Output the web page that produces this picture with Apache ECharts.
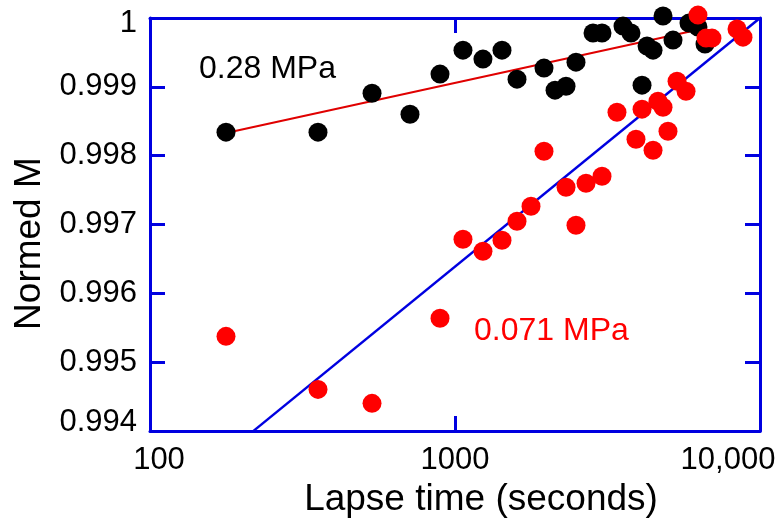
<!DOCTYPE html>
<html>
<head>
<meta charset="utf-8">
<script src="https://cdn.jsdelivr.net/npm/echarts@6/dist/echarts.min.js"></script>
<style>html,body{margin:0;padding:0;background:#fff;}#c{width:783px;height:523px;}</style>
</head>
<body>
<div id="c"></div>
<script>
// ---- data ----
const blackTime = [177.5, 355.5, 534.5, 712, 893, 1062, 1235, 1426, 1597, 1958, 2128, 2312, 2493, 2835, 3034, 3555, 3776, 4104, 4262, 4460, 4809, 5186, 5850, 6261, 6602];
const blackM = [0.998342, 0.998342, 0.998908, 0.998603, 0.999185, 0.999533, 0.999403, 0.999533, 0.999112, 0.999272, 0.998952, 0.999010, 0.999359, 0.999781, 0.999781, 0.999882, 0.999781, 0.999025, 0.999592, 0.999533, 1.000028, 0.999679, 0.999926, 0.999868, 0.999621];
const redTime = [177.5, 355.5, 534.5, 893, 1062, 1235, 1426, 1597, 1775, 1958, 2312, 2493, 2689, 3034, 3397, 3921, 4104, 4460, 4629, 4809, 4993, 5345, 5721, 6261, 6653, 6959, 8407, 8796];
const redM = [0.995376, 0.994606, 0.994403, 0.995638, 0.996786, 0.996612, 0.996772, 0.997048, 0.997266, 0.998065, 0.997542, 0.996990, 0.997600, 0.997702, 0.998632, 0.998240, 0.998676, 0.998080, 0.998792, 0.998705, 0.998356, 0.999083, 0.998937, 1.000042, 0.999708, 0.999708, 0.999839, 0.999722];
const fitHighTime = [177.5, 6600];
const fitHighM = [0.99833, 0.99985];
const fitLowTime = [218, 10000];
const fitLowM = [0.994, 1.0];
const xTickLabels = {100: '100', 1000: '1000', 10000: '10,000'};
const seriesNames = ['0.28 MPa', '0.071 MPa'];

const pairs = (xs, ys) => xs.map((x, i) => [x, ys[i]]);
const BLUE = '#0000e0';
const FONT = '"Liberation Sans", Arial, sans-serif';

const chart = echarts.init(document.getElementById('c'));
const frameAxis = {
  axisLine: {show: true, lineStyle: {color: BLUE, width: 3}},
  axisTick: {show: true, inside: true, length: 15, lineStyle: {color: BLUE, width: 3}},
  splitLine: {show: false},
  minorTick: {show: false}
};
chart.setOption({
  animation: false,
  backgroundColor: '#fff',
  grid: {left: 150, right: 23, top: 18, bottom: 91, containLabel: false},
  xAxis: [
    Object.assign({}, frameAxis, {
      type: 'log', logBase: 10, min: 100, max: 10000, position: 'bottom',
      name: 'Lapse time (seconds)', nameLocation: 'middle', nameGap: 47,
      nameTextStyle: {fontSize: 37, color: '#000', fontFamily: FONT, padding: [0, 0, 0, 52]},
      axisLabel: {
        margin: 14, color: '#000', fontSize: 31, fontFamily: FONT,
        formatter: v => {
          const r = Math.round(v);
          const t = xTickLabels[r] || String(r);
          if (r === 100) return '{a|' + t + '}';
          if (r === 10000) return '{c|' + t + '}';
          return '{b|' + t + '}';
        },
        rich: {
          a: {fontSize: 31, fontFamily: FONT, color: '#000', padding: [0, 0, 0, 18]},
          b: {fontSize: 31, fontFamily: FONT, color: '#000'},
          c: {fontSize: 31, fontFamily: FONT, color: '#000', padding: [0, 64, 0, 0]}
        }
      }
    }),
    Object.assign({}, frameAxis, {
      type: 'log', logBase: 10, min: 100, max: 10000, position: 'top',
      axisLabel: {show: false}
    })
  ],
  yAxis: [
    Object.assign({}, frameAxis, {
      type: 'value', min: 0.994, max: 1.0, interval: 0.001, position: 'left',
      name: 'Normed M', nameLocation: 'middle', nameGap: 102,
      nameTextStyle: {fontSize: 37, color: '#000', fontFamily: FONT, padding: [0, 38, 0, 0]},
      axisLabel: {
        margin: 13, color: '#000', fontSize: 31, fontFamily: FONT,
        formatter: v => {
          if (Math.abs(v - 1) < 1e-9) return '{t|1}';
          if (Math.abs(v - 0.994) < 1e-9) return '{d|0.994}';
          return '{m|' + v.toFixed(3) + '}';
        },
        rich: {
          t: {fontSize: 31, fontFamily: FONT, color: '#000', padding: [10, 0, 0, 0]},
          m: {fontSize: 31, fontFamily: FONT, color: '#000'},
          d: {fontSize: 31, fontFamily: FONT, color: '#000', padding: [0, 0, 18, 0]}
        }
      }
    }),
    Object.assign({}, frameAxis, {
      type: 'value', min: 0.994, max: 1.0, interval: 0.001, position: 'right',
      axisLabel: {show: false}
    })
  ],
  series: [
    {
      type: 'line', name: seriesNames[1] + ' fit', data: pairs(fitLowTime, fitLowM),
      symbol: 'none', lineStyle: {color: BLUE, width: 2.5}, z: 1
    },
    {
      type: 'line', name: seriesNames[0] + ' fit', data: pairs(fitHighTime, fitHighM),
      symbol: 'none', lineStyle: {color: '#e00000', width: 2}, z: 1
    },
    {
      type: 'scatter', name: seriesNames[0], data: pairs(blackTime, blackM),
      symbol: 'circle', symbolSize: 19, itemStyle: {color: '#000', opacity: 1}, clip: false, z: 2
    },
    {
      type: 'scatter', name: seriesNames[1], data: pairs(redTime, redM),
      symbol: 'circle', symbolSize: 19, itemStyle: {color: '#ff0000', opacity: 1}, clip: false, z: 3
    }
  ],
  graphic: [
    {type: 'text', left: 199, top: 53, style: {text: seriesNames[0], fontSize: 32, fontFamily: FONT, fill: '#000'}},
    {type: 'text', left: 474, top: 315, style: {text: seriesNames[1], fontSize: 32, fontFamily: FONT, fill: '#ff0000'}}
  ]
});
</script>
</body>
</html>
